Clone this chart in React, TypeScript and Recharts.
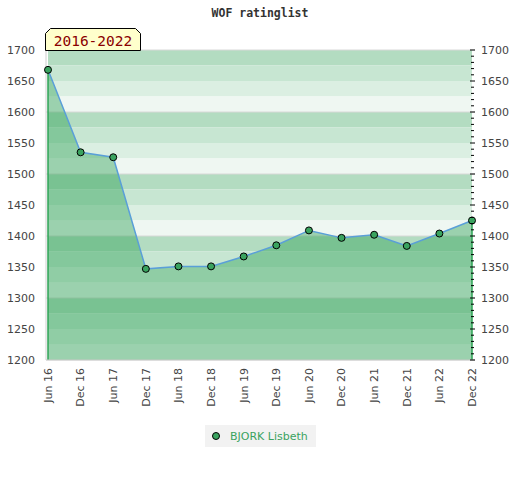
import React from 'react'
import {
  ComposedChart,
  Area,
  Line,
  XAxis,
  YAxis,
  CartesianGrid,
  ReferenceArea,
  ReferenceLine,
} from 'recharts'

const periods = [
  'Jun 16', 'Dec 16', 'Jun 17', 'Dec 17', 'Jun 18', 'Dec 18', 'Jun 19',
  'Dec 19', 'Jun 20', 'Dec 20', 'Jun 21', 'Dec 21', 'Jun 22', 'Dec 22',
]
const ratings = [1668, 1535, 1527, 1347, 1351, 1351, 1367, 1385, 1409, 1397, 1402, 1384, 1404, 1425]
const majorTicks = [1200, 1250, 1300, 1350, 1400, 1450, 1500, 1550, 1600, 1650, 1700]
const gridLines = [1200, 1300, 1400, 1500, 1600, 1700]
const playerName = 'BJORK Lisbeth'
const chartTitle = 'WOF ratinglist'
const rangeLabel = '2016-2022'

const data = periods.map((p, i) => ({ period: p, rating: ratings[i] }))

// four stripes per 100 points, darkest on top
const stripeColors = ['#b3dcc1', '#c7e6d2', '#dbefe2', '#eff7f2']
const stripes: { y1: number; y2: number; fill: string }[] = []
for (let i = 0; i < gridLines.length - 1; i++) {
  const top = gridLines[i + 1]
  stripeColors.forEach((c, k) => {
    stripes.push({ y1: top - (k + 1) * 25, y2: top - k * 25, fill: c })
  })
}

const minorTicks: number[] = []
for (let v = 1200; v <= 1700; v += 10) minorTicks.push(v)

const GREEN = '#3aa35f'
const FONT = '"DejaVu Sans", Verdana, sans-serif'

const XTick = ({ x, y, payload }: any) => (
  <g transform={`translate(${x},${y})`}>
    <text
      transform="rotate(-90)"
      textAnchor="end"
      dy="0.35em"
      fontSize={11}
      fontFamily={FONT}
      fill="#444"
    >
      {payload.value}
    </text>
  </g>
)

const LeftTick = ({ x, y, payload }: any) => (
  <text x={x - 9} y={y} dy="0.35em" textAnchor="end" fontSize={11} fontFamily={FONT} fill="#444">
    {payload.value}
  </text>
)

const RightTick = ({ x, y, payload }: any) => {
  const major = payload.value % 50 === 0
  return (
    <g>
      <line x1={major ? x - 5 : x - 4} x2={major ? x : x - 1} y1={y} y2={y} stroke="#000" strokeWidth={1} />
      {major && (
        <text x={x + 6} y={y} dy="0.35em" textAnchor="start" fontSize={11} fontFamily={FONT} fill="#444">
          {payload.value}
        </text>
      )}
    </g>
  )
}

const Dot = ({ cx, cy }: any) => (
  <circle cx={cx} cy={cy} r={3.5} fill={GREEN} stroke="#000" strokeWidth={1} />
)

export default function App() {
  const first = periods[0]
  const last = periods[periods.length - 1]
  return (
    <div style={{ position: 'absolute', left: 0, top: 0, width: 520, height: 480, background: '#fff' }}>
      <ComposedChart
        width={520}
        height={480}
        data={data}
        margin={{ top: 50, right: 0, bottom: 60, left: 0 }}
      >
        {stripes.map((s, i) => (
          <ReferenceArea
            key={i}
            yAxisId="left"
            y1={s.y1}
            y2={s.y2}
            fill={s.fill}
            fillOpacity={1}
            stroke="none"
            zIndex={-150}
          />
        ))}
        <CartesianGrid
          yAxisId="left"
          vertical={false}
          horizontalValues={gridLines}
          stroke="#d8d8d8"
          strokeWidth={1}
        />
        <XAxis
          dataKey="period"
          interval={0}
          tick={<XTick />}
          tickLine={false}
          tickSize={0}
          tickMargin={8}
          height={60}
          padding={{ left: 2, right: 3 }}
          axisLine={{ stroke: '#cfcfcf' }}
        />
        <YAxis
          yAxisId="left"
          domain={[1200, 1700]}
          ticks={majorTicks}
          width={46}
          tick={<LeftTick />}
          tickLine={false}
          tickSize={0}
          axisLine={{ stroke: '#cfcfcf' }}
          allowDataOverflow
        />
        <YAxis
          yAxisId="right"
          orientation="right"
          type="number"
          domain={[1200, 1700]}
          ticks={minorTicks}
          interval={0}
          width={45}
          tick={<RightTick />}
          tickLine={false}
          tickSize={0}
          tickMargin={0}
          axisLine={false}
          allowDataOverflow
        />
        <Area
          yAxisId="left"
          type="linear"
          dataKey="rating"
          stroke="#5a9fd8"
          strokeWidth={1.5}
          fill="#30a157"
          fillOpacity={0.44}
          dot={<Dot />}
          activeDot={false}
          isAnimationActive={false}
        />
        {/* carries the right-hand axis, draws nothing */}
        <Line
          yAxisId="right"
          dataKey="rating"
          stroke="none"
          dot={false}
          activeDot={false}
          legendType="none"
          isAnimationActive={false}
        />
        <ReferenceLine
          yAxisId="left"
          segment={[
            { x: first, y: 1200 },
            { x: first, y: ratings[0] },
          ]}
          stroke="#2ea356"
          strokeWidth={1.5}
        />
        <ReferenceLine
          yAxisId="left"
          segment={[
            { x: last, y: 1200 },
            { x: last, y: ratings[ratings.length - 1] },
          ]}
          stroke="#2ea356"
          strokeWidth={1.5}
        />
      </ComposedChart>

      <div
        style={{
          position: 'absolute',
          top: 6,
          left: 0,
          width: 520,
          textAlign: 'center',
          fontFamily: '"DejaVu Sans Mono", monospace',
          fontWeight: 'bold',
          fontSize: 11.5,
          color: '#333',
        }}
      >
        {chartTitle}
      </div>

      <svg style={{ position: 'absolute', left: 0, top: 0 }} width={520} height={60}>
        <polygon
          points="45.5,50.5 45.5,33.5 50.5,28.5 135.5,28.5 140.5,33.5 140.5,50.5"
          fill="#ffffcc"
          stroke="#000"
          strokeWidth={1}
        />
        <text
          x={93}
          y={46}
          textAnchor="middle"
          fontFamily='"DejaVu Sans Mono", monospace'
          fontSize={14.5}
          fill="#8b0000"
        >
          {rangeLabel}
        </text>
      </svg>

      <div
        style={{
          position: 'absolute',
          left: 205,
          top: 425,
          width: 111,
          height: 22,
          background: '#f2f2f2',
          display: 'flex',
          alignItems: 'center',
          fontFamily: FONT,
          fontSize: 11,
          color: GREEN,
        }}
      >
        <svg width={24} height={22} style={{ flex: 'none' }}>
          <circle cx={11} cy={11} r={3.5} fill={GREEN} stroke="#000" strokeWidth={1} />
        </svg>
        <span style={{ marginLeft: 1 }}>{playerName}</span>
      </div>
    </div>
  )
}
